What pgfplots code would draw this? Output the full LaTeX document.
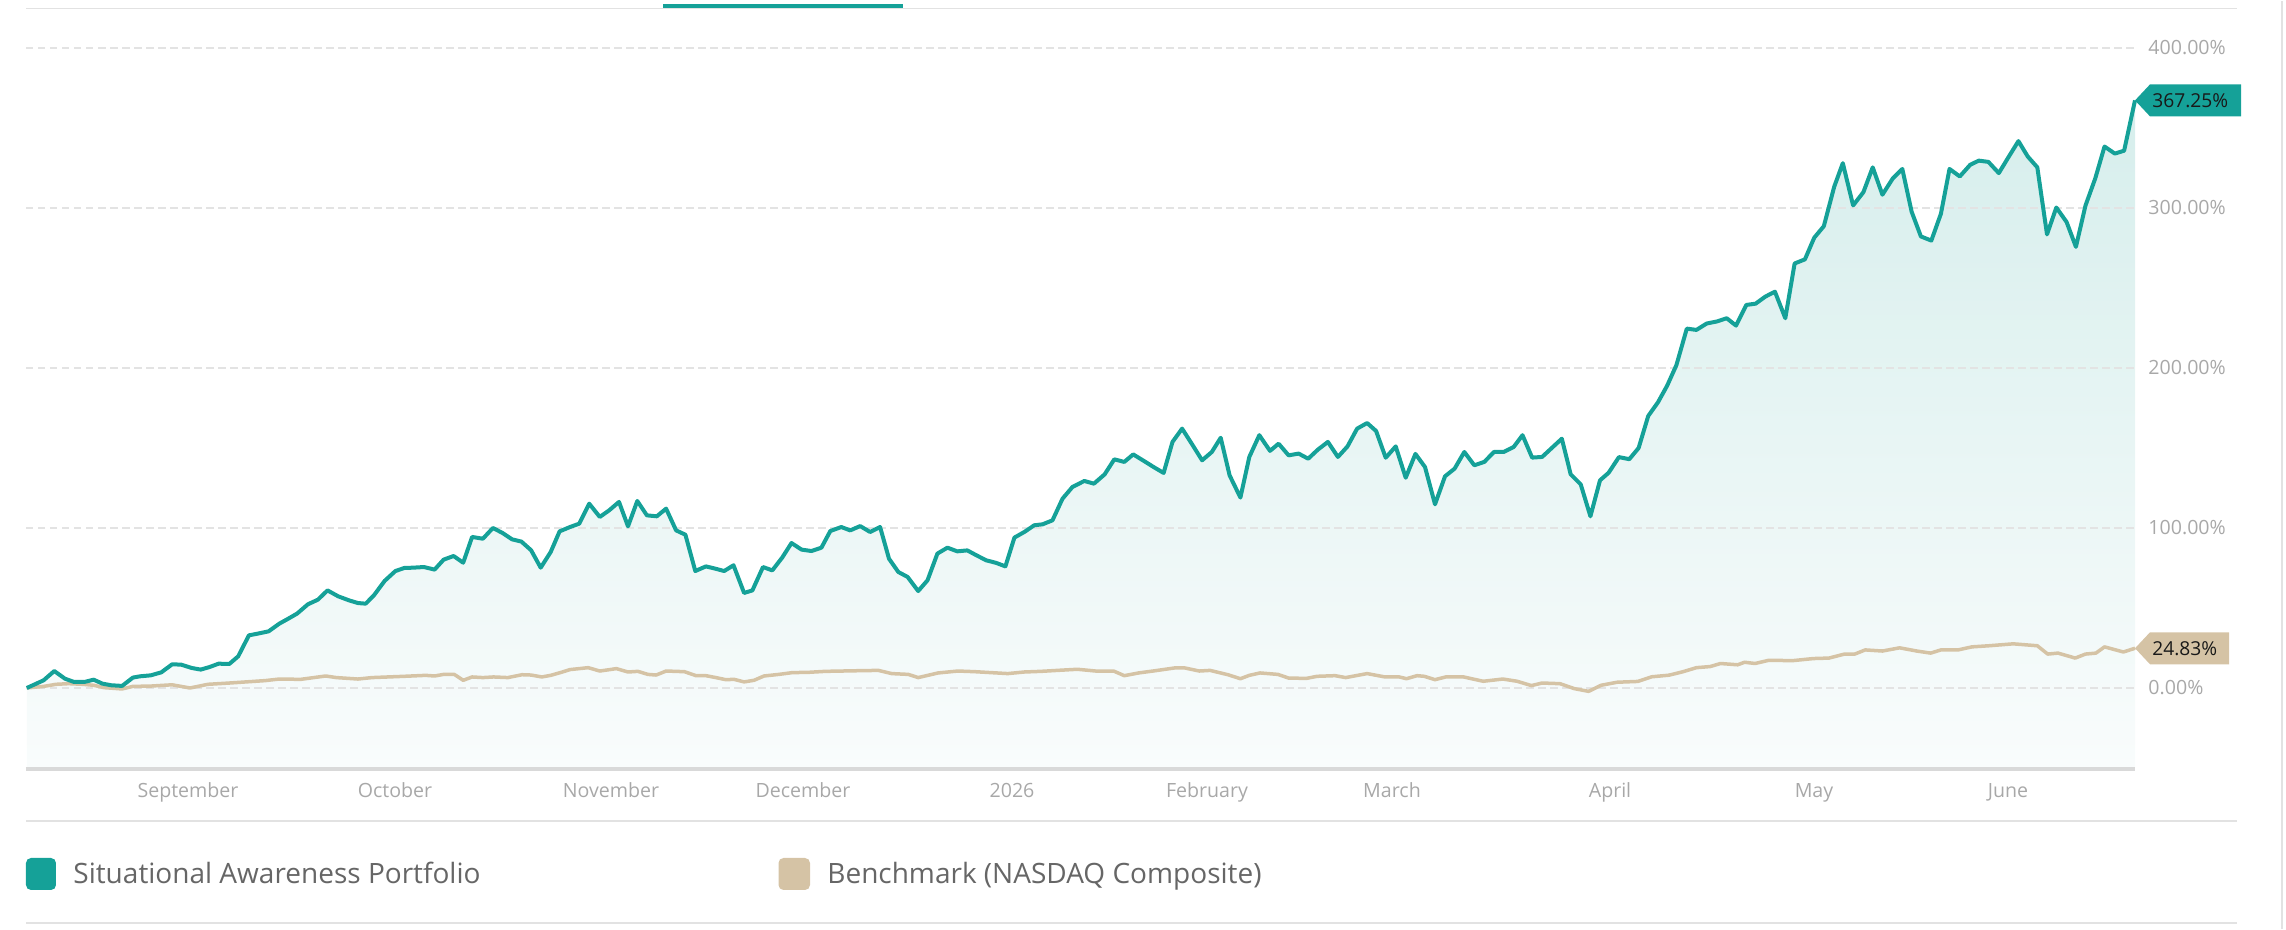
\documentclass[border=0pt]{standalone}
\usepackage{fontspec}
\setmainfont{Open Sans}
\usepackage{pgfplots}
\usepackage{pgfplotstable}
\pgfplotsset{compat=1.18}
\definecolor{tealc}{HTML}{15A198}
\definecolor{beigec}{HTML}{D5C3A5}
\definecolor{fillTop}{HTML}{D6EEEC}
\definecolor{fillBot}{HTML}{F9FCFC}
\definecolor{tickgray}{HTML}{A8A8A8}
\definecolor{gridgray}{HTML}{E3E3E3}
\definecolor{linegray}{HTML}{E2E2E2}
\definecolor{axisgray}{HTML}{D9D9D9}
\definecolor{legendgray}{HTML}{666666}

\pgfplotstableread{
x y
26.8 0
43.6 4.8
54.3 10.6
65 5.8
73.9 3.8
84.6 3.8
93.6 5.2
102.5 2.7
111.4 1.7
122.1 1.3
132.9 6.5
140 7.3
150.7 7.9
161.4 9.8
172.1 14.8
181.1 14.6
191.8 12.5
200.7 11.5
209.6 13.1
218.6 15.2
229.3 15.0
238.2 19.8
248.9 32.9
257.9 34.0
268.6 35.4
279.3 40.2
288.2 43.3
297.1 46.5
307.9 52.3
317.9 55.2
327.5 61.0
338.2 57.3
348.9 54.8
357.9 53.1
365.7 52.7
373.9 57.9
384.6 66.9
395.4 73.1
404.3 75.0
413.2 75.2
423.9 75.6
434.6 74.0
443.6 80.2
453.6 82.5
463.2 78.3
472.1 94.4
482.9 93.3
492.9 100.0
502.5 96.9
512.1 92.9
521.4 91.5
531.1 86.1
540.7 75.2
550.7 85.0
559.6 97.9
570 100.6
579.2 102.7
589.2 115.2
599.8 106.9
609.1 111.0
619 116.3
628 101.0
637.3 116.9
646.9 107.9
656.8 107.3
666.1 112.1
676.1 98.5
685.4 95.8
695.3 73.1
705.9 76.0
715.2 74.6
724.2 73.1
733.5 76.7
744.1 59.4
752.4 61.0
763 75.6
772.3 73.5
782.2 81.5
791.5 90.6
801.5 86.5
811.4 85.6
821.4 87.7
830.3 98.1
841.3 100.6
850.2 98.5
860.2 101.2
870.1 97.5
880.1 100.6
889 80.8
898.3 72.5
907.6 69.4
918.2 60.6
927.5 67.3
937.4 84.0
947.4 87.7
957.3 85.4
967.3 86.0
976.2 83.0
986.2 79.8
996.1 78.2
1005.4 76.0
1014.4 94.0
1024.3 97.5
1034.3 101.7
1042.6 102.3
1052.5 104.8
1062.5 118.3
1072.4 125.6
1084.3 129.4
1093.9 127.7
1104.6 133.5
1114.3 142.9
1124.3 141.3
1133.2 146.0
1143.9 141.9
1153.6 138.1
1163.6 134.4
1172.5 153.8
1182.1 162.1
1192.1 152.3
1202.1 142.3
1211.8 147.5
1220.7 156.4
1229.6 132.9
1240.4 119.0
1249.3 144.4
1259.3 158.0
1270 148.2
1278.6 152.7
1288.6 145.4
1298.6 146.5
1308.2 143.3
1317.9 149.0
1327.9 153.8
1337.9 144.4
1347.5 151.0
1357.1 162.1
1367.1 165.6
1376.1 160.6
1385.7 143.9
1395.7 151.0
1405.7 131.4
1415.4 146.3
1425 138.1
1435 114.8
1445 132.3
1454.6 137.1
1464.3 147.5
1474.3 139.2
1484.3 141.3
1493.9 147.5
1503.6 147.5
1513.6 150.6
1522.5 158.0
1532.1 144.0
1542.1 144.4
1552.1 150.2
1561.8 155.8
1570.7 133.5
1580.7 127.3
1590.4 107.3
1600 129.8
1608.6 134.5
1618.9 144.3
1629.3 143.0
1638.6 150.0
1648.2 170.0
1657.9 178.5
1667.1 188.9
1676.4 201.8
1686.8 224.6
1696.4 223.8
1706.7 227.8
1717.1 229.1
1726.7 231.1
1736 226.5
1746.3 239.4
1755.6 240.2
1765.3 244.6
1774.9 247.7
1785.3 231.1
1794.6 265.3
1804.9 267.9
1814.2 281.4
1823.8 288.6
1834.2 313.3
1842.8 328.0
1853.1 301.6
1863.4 309.9
1872.7 325.4
1882.4 308.3
1892.7 318.4
1902.3 324.4
1911.6 297.7
1920.9 282.2
1931.3 279.6
1940.9 296.4
1949.5 324.4
1959.8 319.7
1970.2 327.0
1978.8 329.6
1988.4 328.8
1998.8 321.8
2008.1 331.4
2018.4 341.8
2027.7 332.2
2037.3 325.4
2047 283.5
2056.3 300.3
2066.6 291.2
2075.9 275.7
2085.5 301.6
2095.2 318.4
2104.5 338.4
2114.8 334.0
2124.1 335.8
2135 367.25
}\portfolio

\pgfplotstableread{
x y
26.8 0
43.6 1.0
56 2.3
68.6 2.7
82.9 2.3
93.6 1.7
104.3 0.2
122.1 -0.6
132.9 1.0
150.7 1.2
172.1 2.0
190 0
207.9 2.3
229.3 3.1
250.7 4.0
265 4.6
279.3 5.6
300.7 5.4
325.7 7.5
336.4 6.5
357.9 5.6
372.1 6.5
404.3 7.3
425.7 7.9
434.6 7.5
443.6 8.5
454.3 8.5
463.2 4.8
472.1 6.9
482.9 6.5
493.6 6.9
507.9 6.5
522.1 8.3
531.1 8.1
541.8 6.9
550.7 7.9
561.4 9.8
570 11.5
588.2 12.7
599.8 10.6
616.4 12.1
628 10.0
637.9 10.4
647.9 8.5
656.2 8.1
666.1 10.6
684.4 10.2
696 7.7
705.9 7.7
715.9 6.5
725.8 5.2
734.1 5.4
744.1 3.8
754 4.8
764 7.5
778.9 8.5
792.2 9.6
808.8 9.8
825.3 10.4
858.5 10.8
878.4 11.0
891.7 9.0
908.3 8.5
918.2 6.5
938.1 9.4
958 10.6
974.6 10.2
991.2 9.6
1007.8 9.0
1024.3 10.0
1041 10.4
1057.5 11.0
1077.4 11.7
1095.7 10.6
1113.6 10.6
1124.3 7.7
1138.6 9.4
1152.9 10.6
1174.3 12.5
1185 12.5
1199.3 10.6
1210 11.0
1227.9 8.3
1240.4 5.8
1249.3 7.9
1260 9.4
1277.9 8.5
1288.6 6.2
1306.4 6.0
1317.1 7.3
1335 7.7
1345.7 6.5
1367.1 9.0
1385 6.9
1399.3 6.9
1406.4 5.8
1417.1 7.7
1424.3 7.3
1435 5.2
1445.7 6.9
1463.6 6.9
1483.2 4.2
1502.9 5.6
1517.1 4.2
1531.4 1.5
1542.1 3.1
1560 2.7
1574.3 -0.4
1588.6 -2.1
1601.1 1.7
1617.2 3.6
1637.9 4.1
1651.7 7.0
1668.9 8.0
1682.6 10.1
1696.4 12.7
1710.2 13.4
1720.5 15.3
1737.7 14.5
1744.6 16.1
1755 15.3
1768.7 17.3
1792.8 17.1
1813.5 18.4
1829 18.7
1844.5 21.2
1854.8 21.2
1865.2 23.8
1882.4 23.1
1899.6 25.1
1916.8 23.1
1930.6 21.8
1940.9 23.8
1958.1 23.8
1971.9 25.7
1989.1 26.4
2013.2 27.6
2037.3 26.4
2047.7 21.2
2058 21.8
2075.2 18.7
2085.5 21.2
2095.9 21.8
2104.5 25.7
2123.4 22.5
2135 24.83
}\benchmark

\begin{document}
\begin{tikzpicture}
\begin{axis}[
  set layers,
  scale only axis,
  width=1054.5pt, height=380pt,
  xmin=26, xmax=2135, ymin=-50, ymax=425,
  axis line style={draw=none},
  tick style={draw=none},
  ytick={0,100,200,300,400},
  yticklabels={0.00\%,100.00\%,200.00\%,300.00\%,400.00\%},
  yticklabel pos=right,
  yticklabel style={anchor=west, inner sep=0pt, xshift=6.5pt,
    font=\fontsize{9.8}{11}\selectfont, text=tickgray},
  xtick={188,395,611,803,1012,1207,1392,1610,1814,2008},
  xticklabels={September,October,November,December,2026,February,March,April,May,June},
  xticklabel style={anchor=base, inner sep=0pt, yshift=-15pt,
    font=\fontsize{9.8}{11}\selectfont, text=tickgray},
  ymajorgrids,
  major grid style={dash pattern=on 3.75pt off 2.25pt, line width=1pt, color=gridgray},
  clip=false,
]
\addplot[draw=none, top color=fillTop, bottom color=fillBot, on layer=axis background]
  table[x=x, y=y] {\portfolio} -- (axis cs:2135,-50) -- (axis cs:26.8,-50) -- cycle;
\addplot[no marks, line width=1.75pt, color=beigec, line join=round] table[x=x, y=y] {\benchmark};
\addplot[no marks, line width=2pt, color=tealc, line join=round] table[x=x, y=y] {\portfolio};

\coordinate (tp) at (axis cs:2135,367.25);
\coordinate (bp) at (axis cs:2135,24.83);
\end{axis}

\fill[tealc] (tp) -- ++(7.5pt,8pt) -- ++(45.5pt,0pt) -- ++(0pt,-16pt) -- ++(-45.5pt,0pt) -- cycle;
\node[anchor=west, inner sep=0pt, font=\fontsize{9.6}{11}\selectfont, text=black!90]
  at ([xshift=8.5pt]tp) {367.25\%};
\fill[beigec] (bp) -- ++(7.5pt,8pt) -- ++(39.5pt,0pt) -- ++(0pt,-16pt) -- ++(-39.5pt,0pt) -- cycle;
\node[anchor=west, inner sep=0pt, font=\fontsize{9.6}{11}\selectfont, text=black!90]
  at ([xshift=8.5pt]bp) {24.83\%};

\begin{scope}[x=0.5pt, y=-0.5pt, shift={(-26,-767)}]
  \path (0,0) rectangle (2286,928);
  \draw[line width=0.75pt, linegray] (26,7.3) -- (2237,7.3);
  \fill[tealc] (663,2.7) rectangle (903,6.7);
  \draw[line width=2pt, axisgray] (26,768.5) -- (2135,768.5);
  \draw[line width=1pt, linegray] (26,820) -- (2237,820);
  \draw[line width=1pt, linegray] (26,922) -- (2237,922);
  \draw[line width=1pt, linegray] (2282,0) -- (2282,928);
  \fill[tealc, rounded corners=2.5pt] (26,857) rectangle (56,889);
  \node[anchor=base west, inner sep=0pt, font=\fontsize{14}{16}\selectfont, text=legendgray]
    at (73,883) {Situational Awareness Portfolio};
  \fill[beigec, rounded corners=2.5pt] (778.5,857) rectangle (810,889);
  \node[anchor=base west, inner sep=0pt, font=\fontsize{14}{16}\selectfont, text=legendgray]
    at (827,883) {Benchmark (NASDAQ Composite)};
\end{scope}
\end{tikzpicture}
\end{document}
